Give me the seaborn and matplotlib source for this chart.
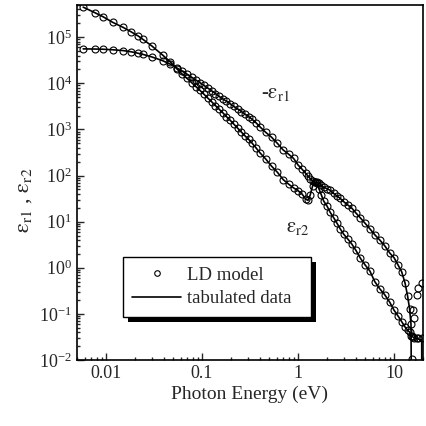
import matplotlib
matplotlib.use('Agg')
import matplotlib.pyplot as plt
import seaborn as sns
from matplotlib.lines import Line2D
from matplotlib.patches import Rectangle
from matplotlib.ticker import FixedLocator, FixedFormatter

# photon energies (eV) of the points
energy = [0.0058, 0.0077, 0.0093, 0.0118, 0.015, 0.0182, 0.0216, 0.0243, 0.030, 0.039,
          0.047, 0.055, 0.062, 0.070, 0.078, 0.087, 0.095, 0.105, 0.115, 0.126,
          0.138, 0.151, 0.165, 0.18, 0.197, 0.215, 0.235, 0.257, 0.28, 0.306,
          0.334, 0.365, 0.40, 0.46, 0.53, 0.61, 0.70, 0.80, 0.90, 1.0,
          1.1, 1.2, 1.27, 1.34, 1.42, 1.50, 1.57, 1.65, 1.75, 1.85,
          2.0, 2.16, 2.35, 2.55, 2.75, 3.0, 3.3, 3.62, 4.0, 4.47,
          5.0, 5.6, 6.3, 7.1, 8.0, 9.0, 10.0, 11.0, 12.0, 13.0,
          13.8, 14.5, 15.0]

# -eps_r1
neg_eps1 = [5.6e4, 5.55e4, 5.5e4, 5.35e4, 5.15e4, 4.85e4, 4.5e4, 4.25e4, 3.75e4, 3.1e4,
            2.6e4, 2.15e4, 1.85e4, 1.58e4, 1.36e4, 1.17e4, 1.04e4, 9.0e3, 7.9e3, 6.9e3,
            6.0e3, 5.2e3, 4.6e3, 4.1e3, 3.6e3, 3.15e3, 2.8e3, 2.45e3, 2.15e3, 1.9e3,
            1.65e3, 1.4e3, 1.15e3, 870, 680, 500, 360, 290, 235, 170,
            138, 112, 98, 86, 76, 72, 71, 68, 62, 56,
            52, 48, 41, 36, 32, 27, 23, 19.8, 15.5, 12.0,
            9.2, 7.0, 5.2, 4.0, 3.0, 2.1, 1.65, 1.15, 0.82, 0.47,
            0.25, 0.13, 0.06]

# eps_r2
eps2 = [4.5e5, 3.4e5, 2.8e5, 2.1e5, 1.65e5, 1.32e5, 1.07e5, 9.0e4, 6.5e4, 4.1e4,
        2.9e4, 2.05e4, 1.6e4, 1.28e4, 1.04e4, 8.4e3, 7.1e3, 5.8e3, 4.8e3, 4.0e3,
        3.3e3, 2.75e3, 2.3e3, 1.9e3, 1.58e3, 1.3e3, 1.07e3, 880, 730, 610,
        500, 400, 315, 230, 160, 118, 82, 65, 54, 47,
        40, 31, 29, 38, 60, 72, 68, 52, 38, 28,
        22, 16, 12.2, 9.2, 7.0, 5.3, 4.2, 3.3, 2.4, 1.6,
        1.15, 0.85, 0.5, 0.35, 0.26, 0.18, 0.12, 0.09, 0.068, 0.052,
        0.045, 0.04, 0.034]

# above the zero crossing of eps_r1 (|eps_r1| shown)
energy_hi = [15.3, 15.7, 16.0, 17.2, 17.8, 19.5]
abs_eps1_hi = [0.0105, 0.12, 0.08, 0.26, 0.37, 0.47]
eps2_hi = [0.033, 0.031, 0.030, 0.030, 0.030, 0.030]

# ends of the tabulated curves
tab_end_e1 = [15.3]
tab_end_v1 = [1e-4]
tab_end_e2 = [15.4, 19.4, 19.5]
tab_end_v2 = [0.032, 0.027, 1e-4]

sns.set_style('ticks')
plt.rcParams['font.family'] = ['Liberation Serif', 'DejaVu Serif']
plt.rcParams['mathtext.fontset'] = 'stix'

fig = plt.figure(figsize=(4.27, 4.26), dpi=100)
ax = fig.add_axes([0.1803, 0.1549, 0.8103, 0.8333])
ax.set_xscale('log')
ax.set_yscale('log')

# tabulated data (lines)
sns.lineplot(x=energy + tab_end_e1, y=neg_eps1 + tab_end_v1, color='k', lw=1.2,
             estimator=None, sort=False, ax=ax)
sns.lineplot(x=energy + tab_end_e2, y=eps2 + tab_end_v2, color='k', lw=1.2,
             estimator=None, sort=False, ax=ax)

# LD model (open circles)
mk = dict(ls='none', marker='o', ms=5, mfc='none', mec='k', mew=0.8, color='k',
          estimator=None, sort=False, ax=ax)
sns.lineplot(x=energy, y=neg_eps1, **mk)
sns.lineplot(x=energy, y=eps2, **mk)
sns.lineplot(x=energy_hi, y=abs_eps1_hi, **mk)
sns.lineplot(x=energy_hi, y=eps2_hi, **mk)

ax.set_xlim(0.005, 20)
ax.set_ylim(1e-2, 5e5)

ax.xaxis.set_major_locator(FixedLocator([0.01, 0.1, 1, 10]))
ax.xaxis.set_major_formatter(FixedFormatter(['0.01', '0.1', '1', '10']))
ax.tick_params(which='both', direction='in', top=False, right=False, labelsize=13, width=1)
ax.tick_params(which='major', length=5)
ax.tick_params(which='minor', length=2.5)
for s in ax.spines.values():
    s.set_linewidth(1.2)
    s.set_color('k')

ax.set_xlabel('Photon Energy (eV)', fontsize=14, labelpad=3)
ax.set_ylabel(r'$\mathrm{\varepsilon_{r1}}$ , $\mathrm{\varepsilon_{r2}}$', fontsize=16, labelpad=4)
ax.yaxis.set_label_coords(-0.125, 0.45)

ax.text(0.59, 6.0e3, r'-$\mathrm{\varepsilon_{r1}}$', fontsize=15, ha='center', va='center')
ax.text(1.0, 7.3, r'$\mathrm{\varepsilon_{r2}}$', fontsize=15, ha='center', va='center')

h1 = Line2D([], [], ls='none', marker='o', ms=4, mfc='none', mec='k', mew=0.8)
h2 = Line2D([], [], color='k', lw=1.2)
leg = ax.legend([h1, h2], ['LD model', 'tabulated data'], loc='upper left',
                bbox_to_anchor=(0.133, 0.29, 0.543, 0.0), mode='expand',
                fancybox=False, framealpha=1,
                edgecolor='k', fontsize=13.5, handlelength=2.6, borderpad=0.5,
                labelspacing=0.35, handletextpad=0.3, borderaxespad=0)
leg.get_frame().set_linewidth(1.0)
leg.set_zorder(5)

# black drop shadow under the legend box
fig.canvas.draw()
bb = leg.get_frame().get_window_extent().transformed(ax.transAxes.inverted())
dx, dy = 5 / 346, 5 / 355
ax.add_patch(Rectangle((bb.x0 + dx, bb.y0 - dy), bb.width, bb.height,
                       transform=ax.transAxes, fc='k', ec='none', zorder=4.9, clip_on=False))

fig.savefig('out.png', dpi=100)
